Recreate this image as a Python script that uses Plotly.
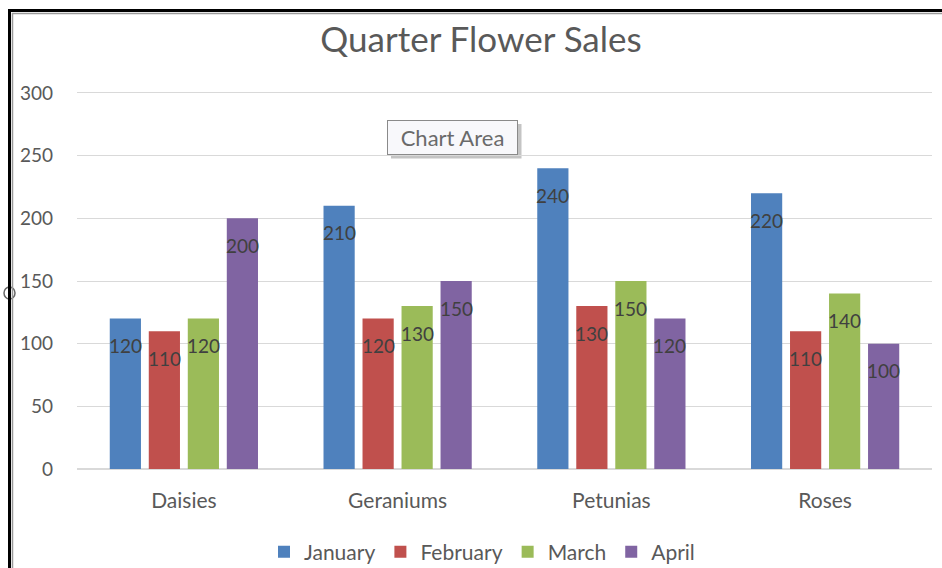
import plotly.graph_objects as go

# Sales data
categories = ["Daisies", "Geraniums", "Petunias", "Roses"]
months = ["January", "February", "March", "April"]
january = [120, 210, 240, 220]
february = [110, 120, 130, 110]
march = [120, 130, 150, 140]
april = [200, 150, 120, 100]
series_values = [january, february, march, april]
colors = ["#4F81BD", "#C0504D", "#9BBB59", "#8064A2"]
y_ticks = [0, 50, 100, 150, 200, 250, 300]

FONT = "Lato"
TEXT_GRAY = "#595959"
LABEL_GRAY = "#404040"
GRID = "#D9D9D9"

W, H = 942, 568
M_L, M_R, M_T, M_B = 77, 10, 93, 99
BARGAP = 0.27
BARGROUPGAP = 0.2

fig = go.Figure()
for name, vals, col in zip(months, series_values, colors):
    fig.add_trace(go.Bar(
        name=name, x=categories, y=vals,
        marker=dict(color=col, line=dict(width=0)),
    ))

# Data labels sit just inside the top of each bar
plot_w = W - M_L - M_R
plot_h = H - M_T - M_B
slot = (1 - BARGAP) * plot_w / len(categories) / len(months)
annotations = []
for i, vals in enumerate(series_values):
    dx = (i - (len(months) - 1) / 2) * slot
    for cat, v in zip(categories, vals):
        annotations.append(dict(
            x=cat, y=v, xref="x", yref="y", text=str(v), showarrow=False,
            xshift=dx, yshift=-27,
            font=dict(family=FONT, size=19, color=LABEL_GRAY),
        ))


def px_x(p):
    return (p - M_L) / plot_w


def px_y(p):
    return 1 - (p - M_T) / plot_h


# "Chart Area" hover tip
annotations.append(dict(
    x=px_x(452.5), y=px_y(137.5), xanchor="center", yanchor="middle",
    xref="paper", yref="paper", text="Chart Area", showarrow=False,
    width=127, height=31,
    font=dict(family=FONT, size=22, color="#6A6A6A"),
    bgcolor="#F8F8FB", bordercolor="#8A8A8A", borderwidth=1, borderpad=1,
))

shapes = [
    # shadow behind the hover tip
    dict(type="rect", xref="paper", yref="paper",
         x0=px_x(391), x1=px_x(521.5), y0=px_y(158.5), y1=px_y(124),
         fillcolor="#C4C4C4", line=dict(width=0), layer="below"),
    # selection handle on the left edge
    dict(type="circle", xref="paper", yref="paper",
         x0=px_x(4), x1=px_x(15), y0=px_y(299), y1=px_y(287),
         fillcolor="white", line=dict(color="#666666", width=1.5)),
    # chart border (inner soft shadow then dark frame)
    dict(type="path", xref="paper", yref="paper",
         path=f"M {px_x(12.5)} {px_y(600)} L {px_x(12.5)} {px_y(13.5)} L {px_x(960)} {px_y(13.5)}",
         line=dict(color="#9A9A9A", width=1.5)),
    dict(type="path", xref="paper", yref="paper",
         path=f"M {px_x(9.5)} {px_y(600)} L {px_x(9.5)} {px_y(10.5)} L {px_x(960)} {px_y(10.5)}",
         line=dict(color="#000000", width=3)),
]

fig.update_layout(
    width=W, height=H,
    margin=dict(l=M_L, r=M_R, t=M_T, b=M_B, autoexpand=False),
    paper_bgcolor="white", plot_bgcolor="white",
    barmode="group", bargap=BARGAP, bargroupgap=BARGROUPGAP,
    title=dict(text="Quarter Flower Sales", x=481 / W, xanchor="center",
               y=1 - 40 / H, yanchor="middle",
               font=dict(family=FONT, size=35, color=TEXT_GRAY)),
    font=dict(family=FONT, size=18, color=TEXT_GRAY),
    showlegend=True,
    legend=dict(orientation="h", x=px_x(482), xanchor="center",
                y=px_y(552), yanchor="middle",
                font=dict(family=FONT, size=21, color=TEXT_GRAY),
                itemwidth=30, traceorder="normal"),
    xaxis=dict(showgrid=False, showline=True, mirror=True,
               linecolor=GRID, linewidth=1,
               ticks="", ticklabelstandoff=13,
               tickfont=dict(family=FONT, size=21, color=TEXT_GRAY)),
    yaxis=dict(range=[0, 300], tickvals=y_ticks, showgrid=True,
               gridcolor=GRID, gridwidth=1, zeroline=True, zerolinecolor=GRID,
               showline=False, ticks="", ticklabelstandoff=23,
               tickfont=dict(family=FONT, size=19, color=TEXT_GRAY)),
    annotations=annotations,
    shapes=shapes,
)

fig.write_html("out.html")
